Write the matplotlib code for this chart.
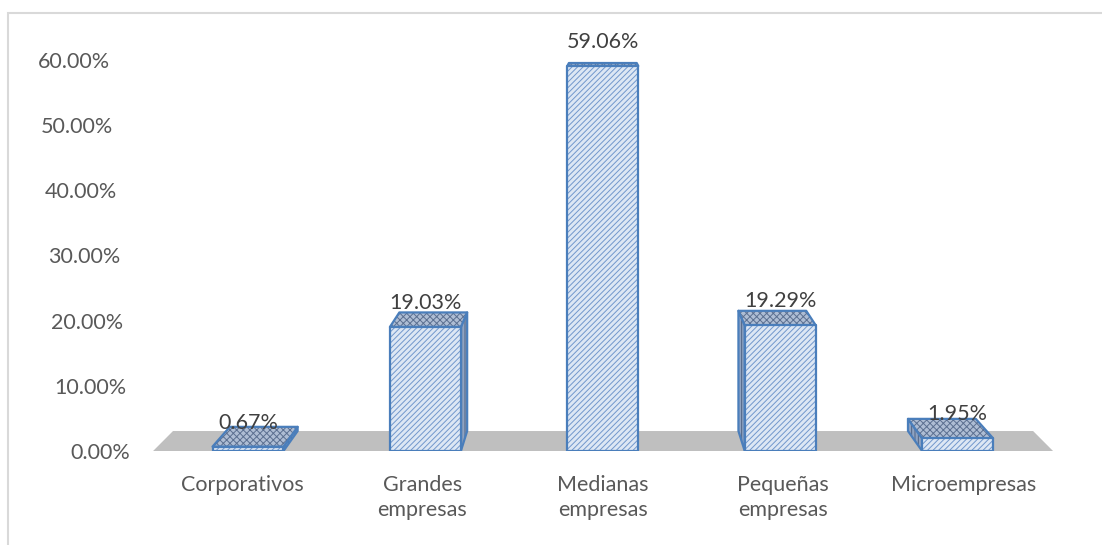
import matplotlib
matplotlib.use("Agg")
import matplotlib.pyplot as plt
from matplotlib.patches import Polygon, Rectangle

categories = ["Corporativos", "Grandes\nempresas", "Medianas\nempresas",
              "Pequeñas\nempresas", "Microempresas"]
values = [0.67, 19.03, 59.06, 19.29, 1.95]
value_labels = ["0.67%", "19.03%", "59.06%", "19.29%", "1.95%"]
y_ticks = [0, 10, 20, 30, 40, 50, 60]
y_tick_labels = ["0.00%", "10.00%", "20.00%", "30.00%", "40.00%", "50.00%", "60.00%"]

plt.rcParams['font.family'] = ['Lato', 'DejaVu Sans']
FS = 15.5

W, H, DPI = 1102, 545, 100
fig = plt.figure(figsize=(W / DPI, H / DPI), dpi=DPI)
fig.patch.set_facecolor('white')

# frame of the chart area (cut off at right/bottom)
fig.patches.append(Rectangle((8 / W, -0.2), 1.2, (H - 13) / H + 0.2,
                             transform=fig.transFigure, fill=False,
                             edgecolor='#D9D9D9', linewidth=1.5))

# pixel geometry: category i centred at 248 + 177.4*i, y=0 at 451, 6.52 px per %
X0, XS, Y0, YS = 248.0, 177.4, 451.0, 6.52
left_px, right_px, top_px = 150, 1060, 30
ax = fig.add_axes([left_px / W, (H - Y0) / H, (right_px - left_px) / W, (Y0 - top_px) / H])
ax.set_xlim((left_px - X0) / XS, (right_px - X0) / XS)
ax.set_ylim(0, (Y0 - top_px) / YS)
for s in ax.spines.values():
    s.set_visible(False)
ax.set_yticks([])

# perspective: shrink towards a vanishing point as depth grows
VX, VY, K = 2.0, Y0 / YS, 0.0443


def proj(x, y, d=1.0):
    return (x + (VX - x) * K * d, y + (VY - y) * K * d)


# floor
fl, fr = -0.535, 4.538
floor = [(fl, 0), (fr, 0), proj(fr, 0), proj(fl, 0)]
ax.add_patch(Polygon(floor, closed=True, facecolor='#BFBFBF', edgecolor='none', zorder=1))

EDGE = '#4A7EBB'
plt.rcParams['hatch.linewidth'] = 0.7


def face(pts, fc, hatch, hc, z):
    ax.add_patch(Polygon(pts, closed=True, facecolor=fc, edgecolor=hc,
                         hatch=hatch, linewidth=0, zorder=z))
    ax.add_patch(Polygon(pts, closed=True, facecolor='none', edgecolor=EDGE,
                         linewidth=1.6, joinstyle='round', zorder=z + 0.5))


bw = 0.2
for i, v in enumerate(values):
    xl, xr = i - bw, i + bw
    ftl, ftr, fbl, fbr = (xl, v), (xr, v), (xl, 0), (xr, 0)
    btl, btr, bbl, bbr = proj(xl, v), proj(xr, v), proj(xl, 0), proj(xr, 0)
    # side face
    if i < 2:
        face([ftr, fbr, bbr, btr], '#8FA3C2', '|||||', '#4D6283', 3)
    elif i > 2:
        face([ftl, fbl, bbl, btl], '#8FA3C2', '|||||', '#4D6283', 3)
    # top face
    face([ftl, ftr, btr, btl], '#AEBDD4', 'xxxxx', '#5B6F90', 4)
    # front face
    face([fbl, fbr, ftr, ftl], '#DDE7F4', '//////', '#7197CC', 5)
    ax.annotate(value_labels[i], (i, v), xytext=(0, 13), textcoords='offset points',
                ha='center', va='baseline', fontsize=FS, color='#404040', zorder=10)

# value axis labels, slanted with the perspective
for t, lab in zip(y_ticks, y_tick_labels):
    xpx = 130 - t / 3.0
    ax.text((xpx - X0) / XS, t, lab, ha='right', va='center_baseline',
            fontsize=FS, color='#595959')

ax.set_xticks([2 + (i - 2) * 1.017 for i in range(len(categories))])
ax.set_xticklabels(categories, fontsize=FS, color='#595959', linespacing=1.35)
ax.tick_params(axis='x', length=0, pad=17)

fig.savefig('out.png', dpi=DPI, facecolor='white')
